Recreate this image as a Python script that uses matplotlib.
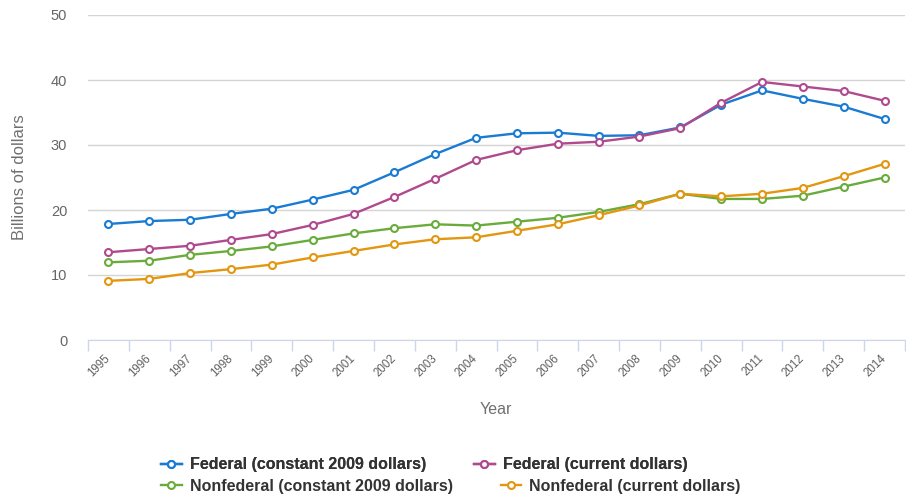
import matplotlib
matplotlib.use("Agg")
import matplotlib.pyplot as plt

plt.rcParams['font.family'] = ['Liberation Sans', 'DejaVu Sans']

years = [str(y) for y in range(1995, 2015)]
federal_constant = [17.85, 18.3, 18.5, 19.4, 20.2, 21.6, 23.1, 25.8, 28.6, 31.1,
                    31.8, 31.9, 31.4, 31.5, 32.7, 36.2, 38.4, 37.1, 35.9, 34.0]
federal_current = [13.5, 14.0, 14.5, 15.4, 16.3, 17.7, 19.4, 22.0, 24.8, 27.7,
                   29.2, 30.2, 30.5, 31.3, 32.6, 36.5, 39.7, 39.0, 38.3, 36.8]
nonfederal_constant = [11.95, 12.2, 13.1, 13.7, 14.4, 15.4, 16.4, 17.2, 17.8, 17.6,
                       18.2, 18.8, 19.7, 20.9, 22.5, 21.7, 21.7, 22.2, 23.6, 25.0]
nonfederal_current = [9.1, 9.4, 10.3, 10.9, 11.6, 12.7, 13.7, 14.7, 15.5, 15.8,
                      16.8, 17.8, 19.2, 20.7, 22.5, 22.1, 22.5, 23.4, 25.2, 27.1]
y_ticks = [0, 10, 20, 30, 40, 50]

series = [
    ("Federal (constant 2009 dollars)", federal_constant, "#1a7bd2"),
    ("Federal (current dollars)", federal_current, "#b04a8e"),
    ("Nonfederal (constant 2009 dollars)", nonfederal_constant, "#6aab3c"),
    ("Nonfederal (current dollars)", nonfederal_current, "#e3960f"),
]

W, H = 906, 496
fig = plt.figure(figsize=(W / 100, H / 100), dpi=100)
ax = fig.add_axes([88 / W, 1 - 340 / H, (905 - 88) / W, (340 - 15) / H])

x = list(range(len(years)))
handles = []
for label, vals, color in series:
    ln, = ax.plot(x, vals, color=color, lw=1.7, marker='o', ms=5,
                  mfc='white', mec=color, mew=1.5, label=label, zorder=3)
    handles.append(ln)

ax.set_xlim(-0.5, len(years) - 0.5)
ax.set_ylim(0, 50)
ax.set_yticks(y_ticks)
ax.yaxis.grid(True, color='#d4d4d4', lw=1)
ax.set_axisbelow(True)
for s in ['left', 'right', 'top']:
    ax.spines[s].set_visible(False)
ax.spines['bottom'].set_color('#ccd6eb')
ax.tick_params(axis='y', length=0, labelsize=10.5, labelcolor='#666666', pad=15)

ax.set_xticks(x)
ax.set_xticklabels(years, rotation=45, ha='right', va='center',
                   rotation_mode='anchor', fontsize=8.3, color='#606060')
ax.tick_params(axis='x', which='major', length=0, pad=12)
ax.set_xticks([i - 0.5 for i in range(len(years) + 1)], minor=True)
ax.tick_params(axis='x', which='minor', length=8, color='#ccd6eb', width=1)

ax.set_ylabel("Billions of dollars", fontsize=12, color='#707070')
ax.yaxis.set_label_coords(27 / W, 1 - 177 / H, transform=fig.transFigure)
fig.text(496 / W, 1 - 409 / H, "Year", ha='center', va='center',
         fontsize=11.5, color='#707070')

legend_kw = dict(ncol=2, loc='center left', frameon=False, handlelength=1.3,
                 columnspacing=3.0, handletextpad=0.5, borderaxespad=0,
                 borderpad=0, prop={'weight': 'bold', 'size': 11.5})
row1 = fig.legend(handles[:2], [s[0] for s in series[:2]],
                  bbox_to_anchor=(161 / W, 1 - 465 / H), **legend_kw)
row2 = fig.legend(handles[2:], [s[0] for s in series[2:]],
                  bbox_to_anchor=(161 / W, 1 - 486 / H), **legend_kw)
fig.add_artist(row1)
for leg in (row1, row2):
    for t in leg.get_texts():
        t.set_color('#333333')

fig.savefig("out.png", dpi=100)
